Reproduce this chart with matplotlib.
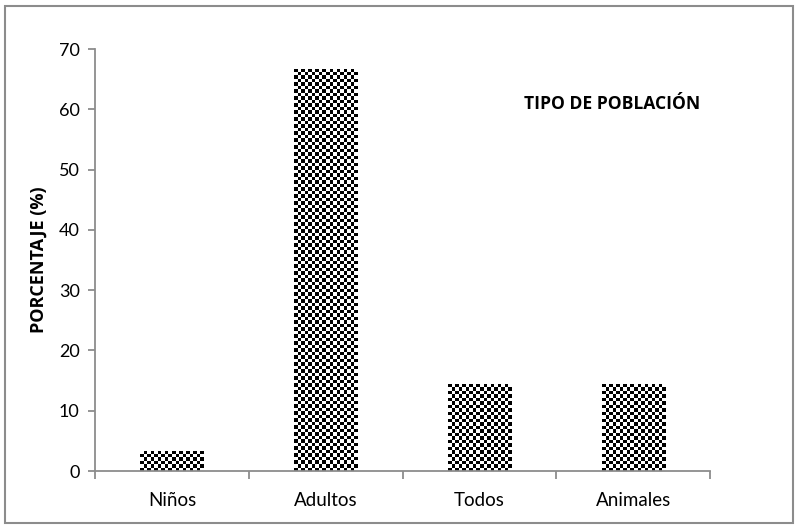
import numpy as np
import matplotlib.pyplot as plt
from matplotlib.patches import Rectangle

categories = ["Niños", "Adultos", "Todos", "Animales"]
percent = [3.4, 66.7, 14.4, 14.4]
y_ticks = [0, 10, 20, 30, 40, 50, 60, 70]

plt.rcParams["font.family"] = ["Lato", "DejaVu Sans"]
BOLD_FONT = ["Open Sans", "DejaVu Sans"]
AXIS_GREY = "#8c8c8c"
CELL_PX = 3.5

fig = plt.figure(figsize=(7.99, 5.30), dpi=100)
ax = fig.add_axes([95 / 799, 1 - 471 / 530, 615 / 799, 422 / 530])

x = np.arange(len(categories))
bars = ax.bar(x, percent, width=0.41, facecolor="none", edgecolor="none")

# checkerboard fill, clipped to each bar
px_x = 615 / len(categories)
px_y = 422 / 70
for b in bars:
    x0, w, h = b.get_x(), b.get_width(), b.get_height()
    nc = max(1, int(round(w * px_x / CELL_PX)))
    nr = max(1, int(round(h * px_y / CELL_PX)))
    board = (np.add.outer(np.arange(nr), np.arange(nc)) % 2).astype(float)
    im = ax.imshow(board, cmap="gray", vmin=0, vmax=1, extent=[x0, x0 + w, 0, h],
                   aspect="auto", interpolation="nearest", origin="lower", zorder=2)
    im.set_clip_path(b)

ax.set_xlim(-0.5, len(categories) - 0.5)
ax.set_ylim(0, 70)

for s in ["top", "right"]:
    ax.spines[s].set_visible(False)
for s in ["left", "bottom"]:
    ax.spines[s].set_color(AXIS_GREY)
    ax.spines[s].set_linewidth(1.3)

ax.set_yticks(y_ticks)
ax.tick_params(axis="y", direction="out", length=5, width=1.3, color=AXIS_GREY,
               labelsize=13, pad=6)
ax.set_xticks(np.arange(len(categories) + 1) - 0.5)
ax.set_xticklabels([])
ax.tick_params(axis="x", which="major", direction="out", length=6, width=1.3, color=AXIS_GREY)
ax.set_xticks(x, minor=True)
ax.set_xticklabels(categories, minor=True)
ax.tick_params(axis="x", which="minor", length=0, labelsize=13.5, pad=15)

ax.set_ylabel("PORCENTAJE (%)", fontsize=13, fontweight="bold", family=BOLD_FONT,
              labelpad=8)
ax.text((612 - 95) / 615, (471 - 104) / 422, "TIPO DE POBLACIÓN", transform=ax.transAxes,
        fontsize=12.6, fontweight="bold", family=BOLD_FONT, ha="center", va="center")

fig.patches.append(Rectangle((5 / 799, 1 - 523 / 530), 788 / 799, 517 / 530,
                             transform=fig.transFigure, fill=False,
                             edgecolor=AXIS_GREY, linewidth=1.5))

fig.savefig("out.png", dpi=100)
